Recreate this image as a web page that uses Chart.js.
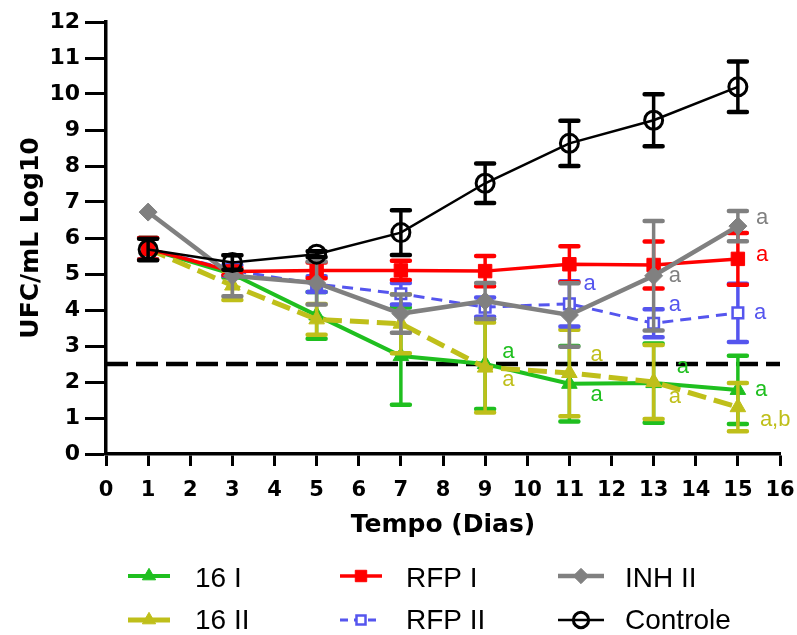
<!DOCTYPE html>
<html><head><meta charset="utf-8">
<script src="https://cdn.jsdelivr.net/npm/chart.js@4.4.1/dist/chart.umd.min.js"></script>
<style>html,body{margin:0;padding:0;background:#fff}canvas{display:block}</style>
</head><body>
<canvas id="c" width="797" height="635"></canvas>
<script>
// ---------- DATA ----------
const days = [1, 3, 5, 7, 9, 11, 13, 15];
const xTickLabels = ['0','1','2','3','4','5','6','7','8','9','10','11','12','13','14','15','16'];
const yTickLabels = ['0','1','2','3','4','5','6','7','8','9','10','11','12'];
const detectionLimit = 2.5;

const mean16I = [5.70, 5.00, 3.85, 2.72, 2.50, 1.95, 1.97, 1.78];
const sd16I   = [0.30, 0.10, 0.65, 1.35, 1.25, 1.05, 1.10, 0.95];
const mean16II = [5.70, 4.68, 3.74, 3.62, 2.40, 2.25, 2.00, 1.30];
const sd16II   = [0.30, 0.40, 0.43, 0.82, 1.25, 1.20, 1.03, 0.67];
const meanRFPI = [5.70, 5.07, 5.10, 5.10, 5.08, 5.27, 5.25, 5.42];
const sdRFPI   = [0.30, 0.10, 0.22, 0.27, 0.42, 0.50, 0.65, 0.72];
const meanRFPII = [5.70, 5.10, 4.72, 4.45, 4.08, 4.17, 3.63, 3.92];
const sdRFPII   = [0.30, 0.15, 0.22, 0.30, 0.27, 0.63, 0.39, 0.81];
const meanINHII = [6.72, 4.95, 4.75, 3.90, 4.25, 3.86, 4.95, 6.33];
const sdINHII   = [0.00, 0.57, 0.60, 0.53, 0.50, 0.88, 1.52, 0.42];
const meanControle = [5.68, 5.32, 5.55, 6.15, 7.52, 8.63, 9.27, 10.20];
const sdControle   = [0.30, 0.20, 0.08, 0.62, 0.55, 0.63, 0.72, 0.70];

const seriesNames = ['16 I', '16 II', 'RFP I', 'RFP II', 'INH II', 'Controle'];
// significance letters: [series, day, text]
const sigLetters = [
  ['16 I', 9, 'a'], ['16 II', 9, 'a'],
  ['RFP II', 11, 'a'], ['16 II', 11, 'a'], ['16 I', 11, 'a'],
  ['INH II', 13, 'a'], ['RFP II', 13, 'a'], ['16 I', 13, 'a'], ['16 II', 13, 'a'],
  ['INH II', 15, 'a'], ['RFP I', 15, 'a'], ['RFP II', 15, 'a'], ['16 I', 15, 'a'], ['16 II', 15, 'a,b']
];

// ---------- STYLES ----------
const styles = {
  '16 I':    {color:'#1fbf1f', width:4,   dash:[],      point:'triangle', r:9,   fill:'#1fbf1f', bw:1,   order:6},
  '16 II':   {color:'#bfbf1a', width:5,   dash:[19,8],  point:'triangle', r:9,   fill:'#bfbf1a', bw:1,   order:5},
  'RFP I':   {color:'#ff0000', width:3.5, dash:[],      point:'rect',     r:9.5, fill:'#ff0000', bw:1,   order:3},
  'RFP II':  {color:'#5555ee', width:3,   dash:[11,7],  point:'rect',     r:7.5, fill:'#ffffff', bw:2.5, order:4},
  'INH II':  {color:'#808080', width:4.5, dash:[],      point:'rectRot',  r:9,   fill:'#808080', bw:1,   order:2},
  'Controle':{color:'#000000', width:2.5, dash:[],      point:'circle',   r:9,   fill:'rgba(255,255,255,0)', bw:3, order:1}
};
// letter placement offsets (px) relative to the point: [series, day] -> [dx, dy]
const letterOffsets = {
  '16 I|9':[17,-12], '16 II|9':[17,12],
  'RFP II|11':[14,-20], '16 II|11':[21,-18], '16 I|11':[21,11],
  'INH II|13':[15,0], 'RFP II|13':[15,-18], '16 I|13':[23,-16], '16 II|13':[15,15],
  'INH II|15':[18,-8], 'RFP I|15':[18,-4], 'RFP II|15':[16,0], '16 I|15':[17,0], '16 II|15':[22,13]
};

const seriesData = {
  '16 I':[mean16I, sd16I], '16 II':[mean16II, sd16II], 'RFP I':[meanRFPI, sdRFPI],
  'RFP II':[meanRFPII, sdRFPII], 'INH II':[meanINHII, sdINHII], 'Controle':[meanControle, sdControle]
};

const datasets = seriesNames.map(name => {
  const s = styles[name];
  const [m, sd] = seriesData[name];
  return {
    label: name,
    data: days.map((d, i) => ({x: d, y: m[i]})),
    errors: sd,
    borderColor: s.color, borderWidth: s.width, borderDash: s.dash,
    pointStyle: s.point, pointRadius: s.r, pointBackgroundColor: s.fill,
    pointBorderColor: s.color, pointBorderWidth: s.bw,
    tension: 0, order: s.order, fill: false
  };
});
datasets.push({
  label: 'limit', isLimit: true,
  data: [{x: 0, y: detectionLimit}, {x: 16, y: detectionLimit}],
  borderColor: '#000', borderWidth: 4.5, borderDash: [22, 8], pointRadius: 0, order: 10
});

const errorBarPlugin = {
  id: 'errorBars',
  beforeDatasetDraw(chart, args) {
    const ds = chart.data.datasets[args.index];
    if (!ds.errors) return;
    const {ctx, scales: {x, y}} = chart;
    ctx.save();
    ctx.strokeStyle = ds.borderColor;
    ctx.setLineDash([]);
    ds.data.forEach((p, i) => {
      const e = ds.errors[i];
      if (!e) return;
      const px = x.getPixelForValue(p.x);
      const top = y.getPixelForValue(p.y + e), bot = y.getPixelForValue(p.y - e);
      ctx.lineWidth = 3.5; ctx.lineCap = 'butt';
      ctx.beginPath(); ctx.moveTo(px, top); ctx.lineTo(px, bot); ctx.stroke();
      ctx.lineWidth = 4.5; ctx.lineCap = 'round';
      ctx.beginPath();
      ctx.moveTo(px - 9, top); ctx.lineTo(px + 9, top);
      ctx.moveTo(px - 9, bot); ctx.lineTo(px + 9, bot);
      ctx.stroke();
    });
    ctx.restore();
  }
};

const lettersPlugin = {
  id: 'letters',
  afterDatasetsDraw(chart) {
    const {ctx, scales: {x, y}} = chart;
    ctx.save();
    ctx.font = '22px "Liberation Sans", Arial, sans-serif';
    ctx.textAlign = 'left'; ctx.textBaseline = 'middle';
    sigLetters.forEach(([name, day, txt]) => {
      const idx = days.indexOf(day);
      const v = seriesData[name][0][idx];
      const [dx, dy] = letterOffsets[name + '|' + day];
      ctx.fillStyle = styles[name].color;
      ctx.fillText(txt, x.getPixelForValue(day) + dx, y.getPixelForValue(v) + dy);
    });
    ctx.restore();
  }
};

const legendLayout = {
  rows: [576, 620], baselines: [587, 629],
  cols: [[128, 170, 195], [340, 382, 406], [558, 604, 625]],
  grid: [['16 I', 'RFP I', 'INH II'], ['16 II', 'RFP II', 'Controle']]
};
const legendPlugin = {
  id: 'customLegend',
  afterDraw(chart) {
    const ctx = chart.ctx;
    ctx.save();
    legendLayout.grid.forEach((row, r) => {
      row.forEach((name, c) => {
        const s = styles[name];
        const [x0, x1, tx] = legendLayout.cols[c];
        const y = legendLayout.rows[r];
        ctx.strokeStyle = s.color; ctx.lineWidth = s.width;
        ctx.setLineDash(name === 'RFP II' ? [8, 6] : []);
        ctx.beginPath(); ctx.moveTo(x0, y); ctx.lineTo(x1, y); ctx.stroke();
        ctx.setLineDash([]);
        ctx.fillStyle = s.fill; ctx.strokeStyle = s.color; ctx.lineWidth = s.bw;
        Chart.helpers.drawPoint(ctx, {pointStyle: s.point, radius: s.r * 0.85, borderWidth: s.bw, rotation: 0}, (x0 + x1) / 2, y);
        ctx.fillStyle = '#000';
        ctx.font = '28px "Liberation Sans", Arial, sans-serif';
        ctx.textAlign = 'left'; ctx.textBaseline = 'alphabetic';
        ctx.fillText(name, tx, legendLayout.baselines[r]);
      });
    });
    ctx.restore();
  }
};

new Chart(document.getElementById('c'), {
  type: 'line',
  data: {datasets},
  plugins: [errorBarPlugin, lettersPlugin, legendPlugin],
  options: {
    responsive: false, animation: false,
    layout: {padding: {top: 22, right: 17, left: 0, bottom: 0}},
    plugins: {legend: {display: false}, tooltip: {enabled: false}},
    scales: {
      x: {
        type: 'linear', min: 0, max: 16,
        afterFit: s => { s.height = 181; s.paddingRight = 0; s.paddingLeft = 0; },
        ticks: {stepSize: 1, color: '#000', padding: 12,
          font: {family: '"DejaVu Sans"', weight: 'bold', size: 21},
          callback: (v) => xTickLabels[v]},
        grid: {display: true, drawOnChartArea: false, drawTicks: true, tickLength: 12, tickWidth: 3, tickColor: '#000'},
        border: {display: true, color: '#000', width: 3.5},
        title: {display: true, text: 'Tempo (Dias)', color: '#000', padding: {top: 0, bottom: 95},
          font: {family: '"DejaVu Sans"', weight: 'bold', size: 25}}
      },
      y: {
        min: 0, max: 12,
        afterFit: s => { s.width = 106; },
        ticks: {stepSize: 1, color: '#000', padding: 5,
          font: {family: '"DejaVu Sans"', weight: 'bold', size: 22},
          callback: (v) => yTickLabels[v]},
        grid: {display: true, drawOnChartArea: false, drawTicks: true, tickLength: 21, tickWidth: 3, tickColor: '#000'},
        border: {display: true, color: '#000', width: 3.5},
        title: {display: true, text: 'UFC/mL Log10', color: '#000', padding: {top: 16, bottom: 0},
          font: {family: '"DejaVu Sans"', weight: 'bold', size: 25}}
      }
    }
  }
});
</script>
</body></html>
